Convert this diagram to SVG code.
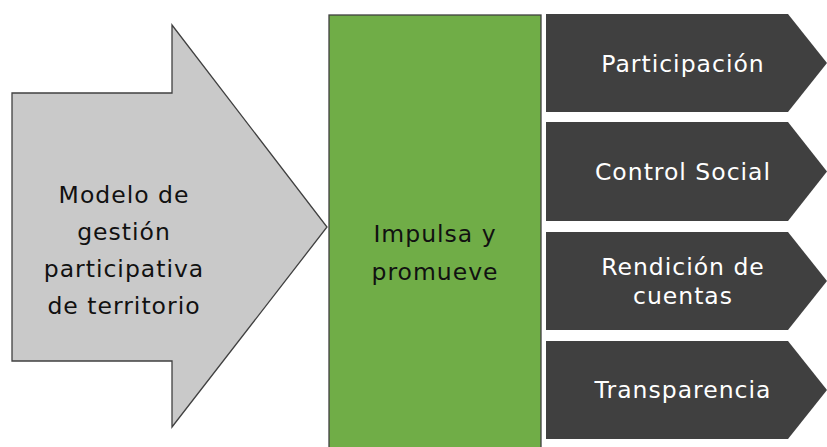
<svg xmlns="http://www.w3.org/2000/svg" width="827" height="447" viewBox="0 0 827 447">
<style>
.t{font-family:"DejaVu Sans","Liberation Sans",sans-serif;font-size:23.5px;letter-spacing:1px;text-anchor:middle}
.dk{fill:#111}
.wt{fill:#fff}
.chev{fill:#404040}
</style>
<rect width="827" height="447" fill="#fff"/>
<g id="arrow">
<polygon points="12,93 172,93 172,25 327,227 172,427 172,361 12,361" fill="#c9c9c9" stroke="#404040" stroke-width="1.3"/>
<text class="t dk" x="124" y="203">Modelo de</text>
<text class="t dk" x="124" y="240">gestión</text>
<text class="t dk" x="124" y="277">participativa</text>
<text class="t dk" x="124" y="314">de territorio</text>
</g>
<g id="impulsa">
<rect x="329" y="15" width="212" height="440" fill="#70ad47" stroke="#404040" stroke-width="1.3"/>
<text class="t dk" x="435" y="242">Impulsa y</text>
<text class="t dk" x="435" y="280">promueve</text>
</g>
<g id="participacion">
<polygon class="chev" points="546,14 788,14 827,63 788,112 546,112"/>
<text class="t wt" x="683" y="72">Participación</text>
</g>
<g id="control">
<polygon class="chev" points="546,122 788,122 827,171.5 788,221 546,221"/>
<text class="t wt" x="683" y="180">Control Social</text>
</g>
<g id="rendicion">
<polygon class="chev" points="546,232 788,232 827,281 788,330 546,330"/>
<text class="t wt" x="683" y="275">Rendición de</text>
<text class="t wt" x="683" y="304">cuentas</text>
</g>
<g id="transparencia">
<polygon class="chev" points="546,341 788,341 827,390 788,439 546,439"/>
<text class="t wt" x="683" y="398">Transparencia</text>
</g>
<g id="connectors"></g>
</svg>
